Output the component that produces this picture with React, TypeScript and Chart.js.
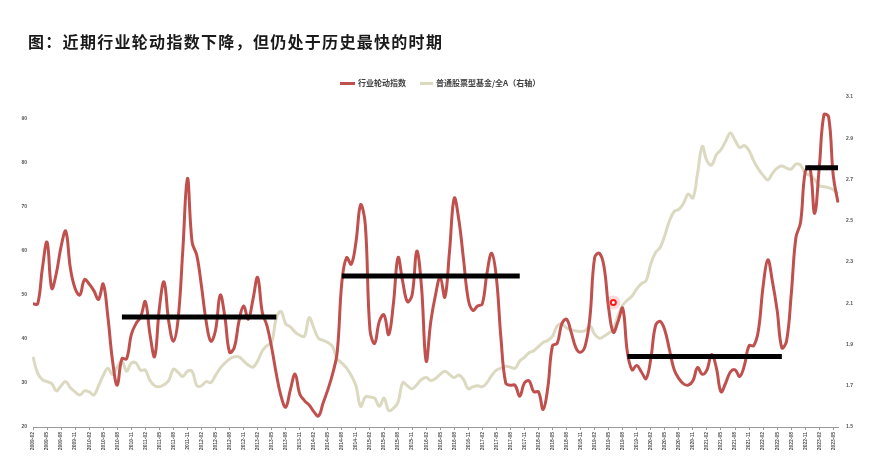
import React, { useEffect, useRef } from "react";
import { Chart, registerables } from "chart.js";

Chart.register(...registerables);

const TITLE = "图：近期行业轮动指数下降，但仍处于历史最快的时期";
const SERIES_NAMES = ["行业轮动指数", "普通股票型基金/全A（右轴）"];

// monthly categories 2009-02 .. 2023-06
const FIRST_YEAR = 2009;
const FIRST_MONTH = 2;
const MONTH_COUNT = 173;
const TICK_EVERY = 3; // quarterly tick labels

const MONTHS: string[] = Array.from({ length: MONTH_COUNT }, (_, k) => {
  const m = FIRST_MONTH - 1 + k;
  const y = FIRST_YEAR + Math.floor(m / 12);
  const mm = (m % 12) + 1;
  return `${y}-${String(mm).padStart(2, "0")}`;
});

// 行业轮动指数 (left axis)
const ROTATION_INDEX = [
  48, 48, 56, 62, 51.5, 55, 61, 64.5, 56, 51.5, 50, 53.5,
  52.5, 51, 49, 52.5, 45, 35, 29.5, 35.5, 35.5, 41, 43.5, 45,
  48.5, 41, 36, 47, 53, 44, 39.5, 44.5, 60, 76.5, 62, 59,
  52, 44, 39.5, 42, 50, 45, 37, 38, 44, 47.5, 44.5, 49,
  54, 46, 43, 38, 32, 27, 24.5, 28.5, 32, 27.5, 26, 25,
  23.5, 22.5, 25.5, 28.5, 32, 37, 53, 58.5, 57, 62, 70.5, 66,
  42, 39, 44, 45.5, 41, 48, 58.5, 53, 48.5, 50, 60, 52,
  35, 44, 50, 54, 49.5, 60, 72, 67, 58, 49, 46.5, 47.5,
  48, 55, 59.5, 54, 40, 30, 29.5, 29.5, 27, 30, 30.5, 28,
  28, 24, 29, 38.5, 39, 43.5, 44.5, 41.5, 38, 37, 38.5, 45,
  58.5, 59.5, 56.5, 47, 41.5, 44, 47, 37, 33, 34, 32.5, 31,
  35.5, 43, 44, 42, 37.5, 33, 31, 29.8, 29.5, 30.5, 33.5, 32,
  33, 36.5, 33.5, 28, 30, 32.5, 33, 31.5, 34, 38.5, 38.5, 42,
  52, 58, 53, 46.5, 38, 39.5, 50, 63, 66.5, 78, 79, 68.5,
  79, 91, 90.5, 77, 71,
];

// 普通股票型基金/全A (right axis)
const FUND_RATIO = [
  1.84, 1.76, 1.73, 1.72, 1.71, 1.675, 1.70, 1.72, 1.69, 1.67, 1.655, 1.675,
  1.67, 1.655, 1.70, 1.75, 1.785, 1.755, 1.79, 1.82, 1.77, 1.81, 1.81, 1.775,
  1.776, 1.725, 1.70, 1.695, 1.705, 1.725, 1.78, 1.765, 1.745, 1.77, 1.77, 1.70,
  1.70, 1.72, 1.715, 1.75, 1.785, 1.81, 1.83, 1.84, 1.84, 1.82, 1.80, 1.79,
  1.82, 1.87, 1.895, 1.91, 2.03, 2.06, 2.00, 1.985, 1.96, 1.945, 1.94, 2.03,
  1.98, 1.93, 1.92, 1.91, 1.89, 1.83, 1.81, 1.785, 1.75, 1.70, 1.60, 1.645,
  1.645, 1.64, 1.60, 1.64, 1.58, 1.59, 1.62, 1.715, 1.70, 1.685, 1.705, 1.73,
  1.74, 1.725, 1.735, 1.755, 1.77, 1.755, 1.74, 1.752, 1.73, 1.685, 1.695, 1.70,
  1.695, 1.715, 1.75, 1.776, 1.785, 1.795, 1.79, 1.785, 1.82, 1.838, 1.86, 1.87,
  1.89, 1.91, 1.92, 1.94, 1.99, 2.0, 1.98, 1.972, 1.965, 1.963, 1.968, 1.99,
  1.95, 1.93, 1.94, 1.955, 1.975, 2.04, 2.09, 2.115, 2.135, 2.17, 2.195, 2.21,
  2.29, 2.345, 2.37, 2.43, 2.50, 2.545, 2.555, 2.585, 2.63, 2.61, 2.73, 2.86,
  2.79, 2.77, 2.82, 2.845, 2.885, 2.925, 2.89, 2.855, 2.865, 2.84, 2.79, 2.75,
  2.72, 2.698, 2.73, 2.755, 2.765, 2.755, 2.75, 2.775, 2.77, 2.73, 2.72, 2.70,
  2.67, 2.665, 2.66, 2.65, 2.63,
];

// period averages (black bars)
const SEG_FROM = ["2010-09", "2014-08", "2019-09", "2022-11"];
const SEG_TO = ["2013-06", "2017-10", "2022-06", "2023-06"];
const SEG_VALUE = [45, 54.3, 36, 78.9];

// pointer marker
const MARKER_MONTH = "2019-06";
const MARKER_VALUE = 48.3;

const LEFT_MIN = 20;
const LEFT_MAX = 95;
const LEFT_STEP = 10;
const RIGHT_MIN = 1.5;
const RIGHT_MAX = 3.1;
const RIGHT_STEP = 0.2;

const RED = "#c0504d";
const BEIGE = "#dcd9c1";

export default function App() {
  const ref = useRef<HTMLCanvasElement>(null);

  useEffect(() => {
    const canvas = ref.current;
    if (!canvas) return;
    const segData = (k: number) =>
      MONTHS.map((m) => (m >= SEG_FROM[k] && m <= SEG_TO[k] ? SEG_VALUE[k] : null));
    const markerData = MONTHS.map((m) => (m === MARKER_MONTH ? MARKER_VALUE : null));
    const tickFont = { family: "'Liberation Sans', Arial, sans-serif", size: 5, weight: "bold" as const };

    const chart = new Chart(canvas, {
      type: "line",
      data: {
        labels: MONTHS,
        datasets: [
          {
            label: "marker",
            data: markerData,
            yAxisID: "y",
            showLine: false,
            pointRadius: 2.5,
            pointBackgroundColor: "#ffffff",
            pointBorderColor: "#ff1a1a",
            pointBorderWidth: 2,
            order: 0,
          },
          {
            label: "glow",
            data: markerData,
            yAxisID: "y",
            showLine: false,
            pointRadius: 7,
            pointBackgroundColor: "rgba(255,80,80,0.22)",
            pointBorderWidth: 0,
            order: 1,
          },
          ...[0, 1, 2, 3].map((k) => ({
            label: "avg" + k,
            data: segData(k),
            yAxisID: "y",
            borderColor: "#000000",
            borderWidth: 5,
            borderCapStyle: "butt" as const,
            pointRadius: 0,
            tension: 0,
            spanGaps: false,
            order: 2,
          })),
          {
            label: SERIES_NAMES[0],
            data: ROTATION_INDEX,
            yAxisID: "y",
            borderColor: RED,
            backgroundColor: RED,
            borderWidth: 3,
            pointRadius: 0,
            tension: 0.4,
            borderJoinStyle: "round" as const,
            order: 3,
          },
          {
            label: SERIES_NAMES[1],
            data: FUND_RATIO,
            yAxisID: "y1",
            borderColor: BEIGE,
            backgroundColor: BEIGE,
            borderWidth: 3,
            pointRadius: 0,
            tension: 0.4,
            borderJoinStyle: "round" as const,
            order: 4,
          },
        ],
      },
      options: {
        responsive: false,
        animation: false,
        layout: { padding: { top: 97, left: 0, right: 0, bottom: 0 } },
        plugins: {
          legend: { display: false },
          tooltip: { enabled: false },
          title: { display: false },
        },
        scales: {
          x: {
            type: "category",
            afterBuildTicks: (s: any) => {
              s.ticks = s.ticks.filter((t: any) => t.value % TICK_EVERY === 0);
            },
            afterFit: (s: any) => {
              s.height = 38;
            },
            ticks: {
              autoSkip: false,
              minRotation: 90,
              maxRotation: 90,
              padding: 2,
              color: "#555",
              font: tickFont,
            },
            grid: {
              display: true,
              drawOnChartArea: false,
              drawTicks: true,
              tickLength: 3,
              color: "#9a9a9a",
            },
            border: { display: true, color: "#9a9a9a", width: 1 },
          },
          y: {
            position: "left",
            min: LEFT_MIN,
            max: LEFT_MAX,
            afterFit: (s: any) => {
              s.width = 33;
            },
            ticks: {
              stepSize: LEFT_STEP,
              includeBounds: false,
              padding: 6,
              color: "#555",
              font: tickFont,
            },
            grid: { display: false, drawTicks: false },
            border: { display: false },
          },
          y1: {
            position: "right",
            min: RIGHT_MIN,
            max: RIGHT_MAX,
            afterFit: (s: any) => {
              s.width = 37;
            },
            ticks: {
              stepSize: RIGHT_STEP,
              padding: 8,
              color: "#555",
              font: tickFont,
              callback: (v: any) => Number(v).toFixed(1),
            },
            grid: { display: false, drawTicks: false },
            border: { display: false },
          },
        },
      },
    });
    return () => chart.destroy();
  }, []);

  const legendText: React.CSSProperties = {
    fontFamily: "'Noto Sans CJK SC', sans-serif",
    fontSize: 8,
    fontWeight: 700,
    color: "#404040",
    whiteSpace: "nowrap",
    lineHeight: "12px",
  };

  return (
    <div
      style={{
        position: "fixed",
        left: 0,
        top: 0,
        width: 875,
        height: 465,
        background: "#ffffff",
        overflow: "hidden",
      }}
    >
      <canvas ref={ref} width={875} height={465} style={{ position: "absolute", left: 0, top: 0 }} />
      <div
        style={{
          position: "absolute",
          left: 28,
          top: 31,
          fontFamily: "'Noto Sans CJK SC', sans-serif",
          fontSize: 16,
          fontWeight: 700,
          letterSpacing: "1.3px",
          lineHeight: "20px",
          color: "#1a1a1a",
          whiteSpace: "nowrap",
        }}
      >
        {TITLE}
      </div>
      <div
        style={{
          position: "absolute",
          left: 340,
          top: 77,
          height: 12,
          display: "flex",
          alignItems: "center",
        }}
      >
        <span style={{ display: "inline-block", width: 15, height: 3, background: RED, marginRight: 3 }} />
        <span style={legendText}>{SERIES_NAMES[0]}</span>
        <span
          style={{ display: "inline-block", width: 13, height: 3, background: BEIGE, marginLeft: 14, marginRight: 3 }}
        />
        <span style={legendText}>{SERIES_NAMES[1]}</span>
      </div>
    </div>
  );
}
